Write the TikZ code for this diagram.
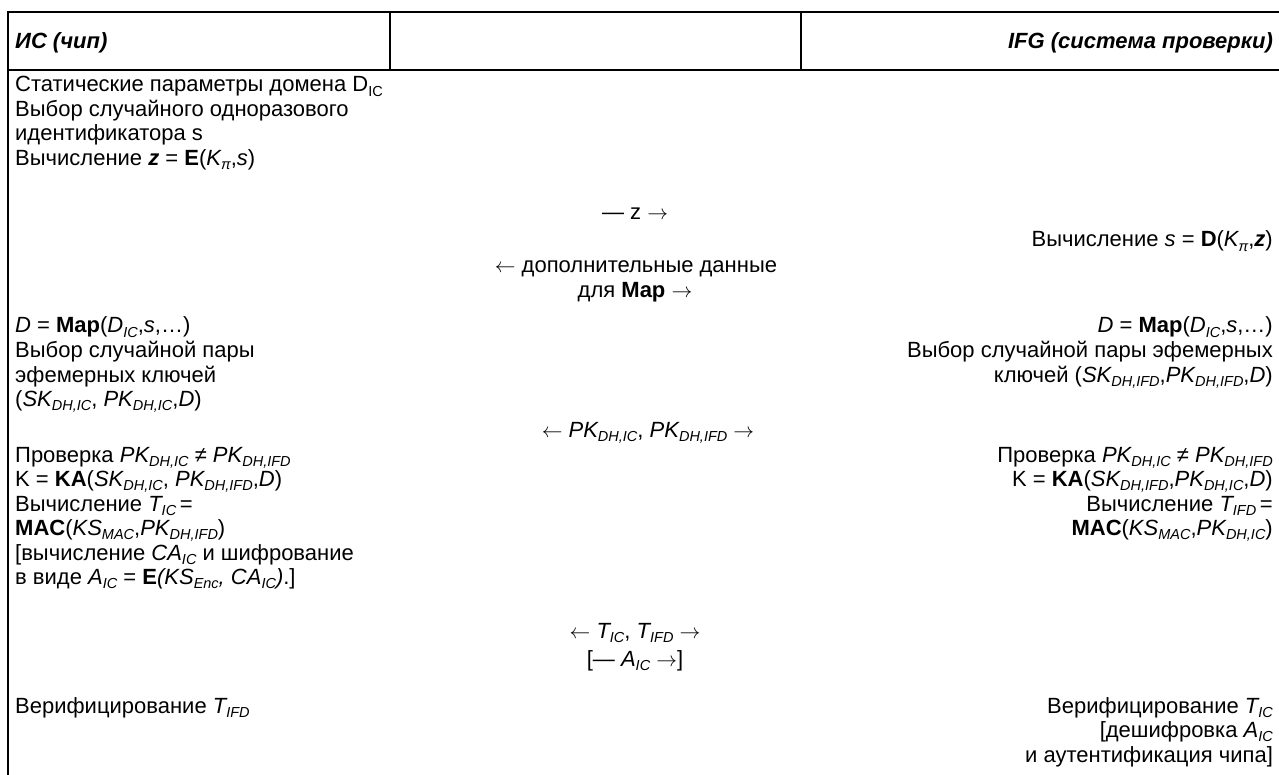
\documentclass[tikz,border=0pt]{standalone}
\usepackage{fontspec}
\setmainfont{Liberation Sans}
\newcommand{\sbs}[1]{\raisebox{-0.2em}{\fontsize{14.5}{14.5}\selectfont #1}}
\newcommand{\ra}{\(\rightarrow\)}
\newcommand{\la}{\(\leftarrow\)}
\begin{document}
\begin{tikzpicture}[x=1pt,y=-1pt,
  every node/.style={inner sep=0pt, font=\fontsize{22}{24.5}\selectfont},
  lt/.style={anchor=base west},
  rt/.style={anchor=base east},
  md/.style={anchor=base},
  hd/.style={font=\fontsize{22}{24.5}\selectfont\bfseries\itshape},
  rule/.style={line width=2pt}]
\useasboundingbox (0,0) rectangle (1279,775);
% table rules
\draw[rule] (7,12) -- (1279,12);
\draw[rule] (7,70) -- (1279,70);
\draw[rule] (8,11) -- (8,775);
\draw[rule] (390,12) -- (390,70);
\draw[rule] (801,12) -- (801,70);
% header
\node[lt,hd] (hL) at (15,49) {ИС (чип)};
\node[rt,hd] (hR) at (1273,49) {IFG (система проверки)};
% row 1
\node[lt] (a1) at (15,92) {Статические параметры домена D\sbs{IC}};
\node[lt] (a2) at (15,116.5) {Выбор случайного одноразового};
\node[lt] (a3) at (15,141) {идентификатора s};
\node[lt] (a4) at (15,165.5) {Вычисление \textbf{\textit{z}} = \textbf{E}(\textit{K\sbs{π}},\textit{s})};
% row 2,3,4
\node[md] (m1) at (635,220) {— z \ra};
\node[rt] (b1) at (1273,247) {Вычисление \textit{s} = \textbf{D}(\textit{K\sbs{π}},\textbf{\textit{z}})};
\node[md] (m2) at (636,273) {\la{} дополнительные данные};
\node[md] (m3) at (635,297.5) {для \textbf{Map} \ra};
% row 5
\node[lt] (a5) at (15,333) {\textit{D} = \textbf{Map}(\textit{D\sbs{IC}},\textit{s},…)};
\node[lt] (a6) at (15,357.5) {Выбор случайной пары};
\node[lt] (a7) at (15,382) {эфемерных ключей};
\node[lt] (a8) at (15,406.5) {(\textit{SK\sbs{DH,IC}}, \textit{PK\sbs{DH,IC}},\textit{D})};
\node[rt] (b2) at (1273,333) {\textit{D} = \textbf{Map}(\textit{D\sbs{IC}},\textit{s},…)};
\node[rt] (b3) at (1273,357.5) {Выбор случайной пары эфемерных};
\node[rt] (b4) at (1273,382) {ключей (\textit{SK\sbs{DH,IFD}},\textit{PK\sbs{DH,IFD}},\textit{D})};
% row 6
\node[md] (m4) at (648,437) {\la{} \textit{PK\sbs{DH,IC}}, \textit{PK\sbs{DH,IFD}} \ra};
% row 7
\node[lt] (a9) at (15,462) {Проверка \textit{PK\sbs{DH,IC} ≠ PK\sbs{DH,IFD}}};
\node[lt] (a10) at (15,486.5) {K = \textbf{KA}(\textit{SK\sbs{DH,IC}}, \textit{PK\sbs{DH,IFD}},\textit{D})};
\node[lt] (a11) at (15,511) {Вычисление \textit{T\sbs{IC}}\,=};
\node[lt] (a12) at (15,535.5) {\textbf{MAC}(\textit{KS\sbs{MAC}},\textit{PK\sbs{DH,IFD}})};
\node[lt] (a13) at (15,560) {[вычисление \textit{CA\sbs{IC}} и шифрование};
\node[lt] (a14) at (15,584.5) {в виде \textit{A\sbs{IC}} = \textbf{E}\textit{(KS\sbs{Enc}, CA\sbs{IC})}.]};
\node[rt] (b5) at (1273,462) {Проверка \textit{PK\sbs{DH,IC} ≠ PK\sbs{DH,IFD}}};
\node[rt] (b6) at (1273,486.5) {K = \textbf{KA}(\textit{SK\sbs{DH,IFD}},\textit{PK\sbs{DH,IC}},\textit{D})};
\node[rt] (b7) at (1273,511) {Вычисление \textit{T\sbs{IFD}}\,=};
\node[rt] (b8) at (1273,535.5) {\textbf{MAC}(\textit{KS\sbs{MAC}},\textit{PK\sbs{DH,IC}})};
% row 8
\node[md] (m5) at (635,638.5) {\la{} \textit{T\sbs{IC}}, \textit{T\sbs{IFD}} \ra};
\node[md] (m6) at (635,666.5) {[— \textit{A\sbs{IC}} \ra]};
% row 9
\node[lt] (a15) at (15,713) {Верифицирование \textit{T\sbs{IFD}}};
\node[rt] (b9) at (1273,713) {Верифицирование \textit{T\sbs{IC}}};
\node[rt] (b10) at (1273,737.5) {[дешифровка \textit{A\sbs{IC}}};
\node[rt] (b11) at (1273,762) {и аутентификация чипа]};
\end{tikzpicture}
\end{document}
